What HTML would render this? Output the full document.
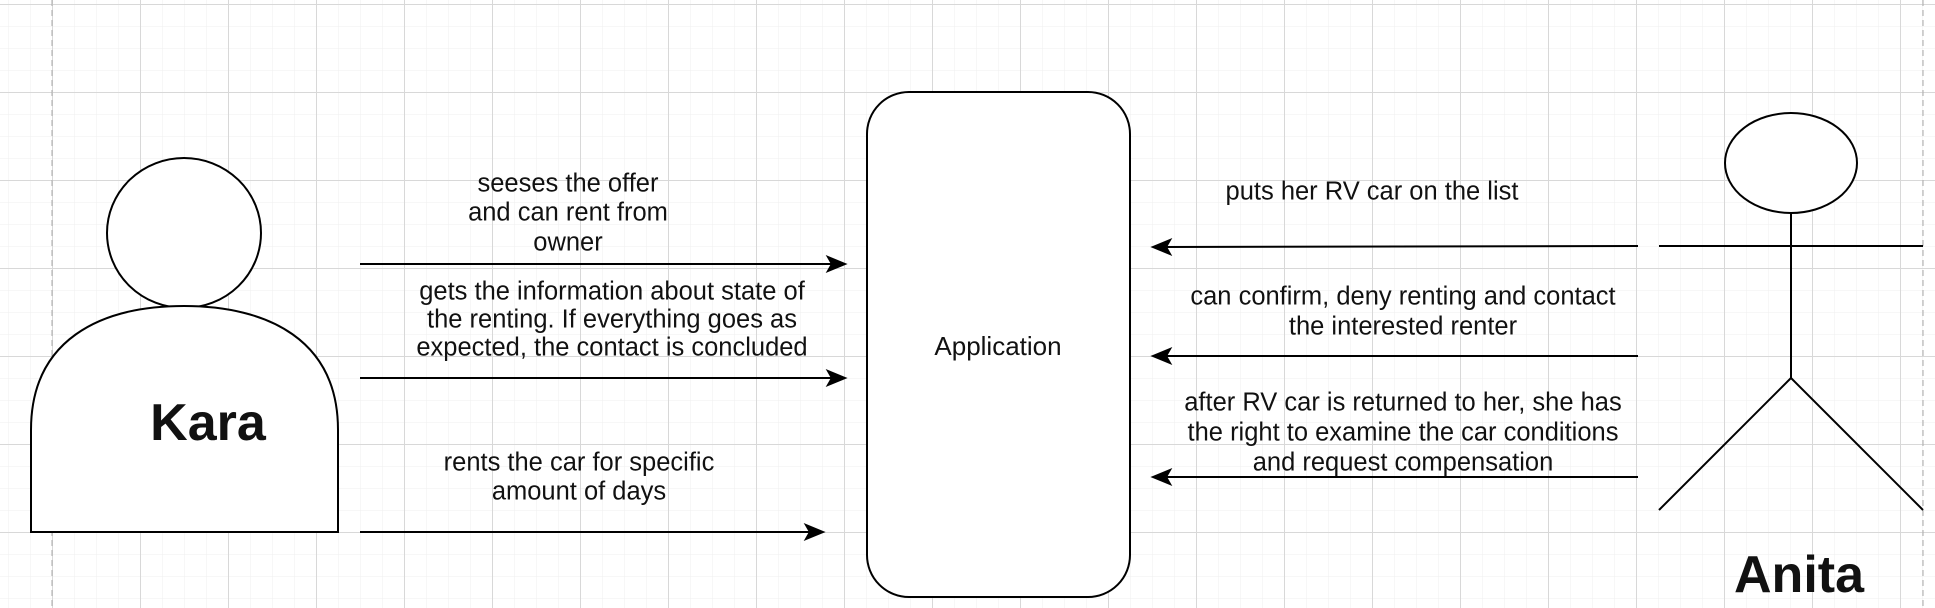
<!DOCTYPE html>
<html><head><meta charset="utf-8"><style>
html,body{margin:0;padding:0;background:#fff;}
svg{display:block;}
text{font-family:"Liberation Sans",sans-serif;fill:#111;}
</style></head><body>
<svg width="1935" height="608" viewBox="0 0 1935 608" xmlns="http://www.w3.org/2000/svg">
<defs>
<pattern id="minor" x="8" y="4" width="22" height="22" patternUnits="userSpaceOnUse">
<path d="M0 0H22M0 0V22" stroke="#efefef" stroke-width="1" fill="none"/>
</pattern>
<pattern id="major" x="52" y="4" width="88" height="88" patternUnits="userSpaceOnUse">
<path d="M0 0.5H88M0.5 0V88" stroke="#d8d8d8" stroke-width="1" fill="none"/>
</pattern>
</defs>
<rect width="1935" height="608" fill="url(#minor)"/>
<rect width="1935" height="608" fill="url(#major)"/>
<line x1="52" y1="0" x2="52" y2="608" stroke="#aaa" stroke-dasharray="6,4"/>
<line x1="1923" y1="0" x2="1923" y2="608" stroke="#aaa" stroke-dasharray="6,4"/>

<!-- Kara -->
<ellipse cx="184" cy="233" rx="77" ry="75" fill="#fff" stroke="#000" stroke-width="2"/>
<path d="M31 532 L31 430 C31 340 100 306 184 306 C268 306 338 340 338 430 L338 532 Z" fill="#fff" stroke="#000" stroke-width="2"/>
<text x="208" y="440" font-size="52" font-weight="bold" text-anchor="middle">Kara</text>

<!-- Application -->
<rect x="867" y="92" width="263" height="505" rx="42" fill="#fff" stroke="#000" stroke-width="2"/>
<text x="998" y="355" font-size="26" text-anchor="middle">Application</text>

<g stroke="#000" stroke-width="2" fill="#000">
<line x1="360" y1="264" x2="836" y2="264"/><path d="M845 264 L828 257 L832 264 L828 271 Z"/>
<line x1="360" y1="378" x2="836" y2="378"/><path d="M845 378 L828 371 L832 378 L828 385 Z"/>
<line x1="360" y1="532" x2="814" y2="532"/><path d="M823 532 L806 525 L810 532 L806 539 Z"/>
<line x1="1638" y1="246" x2="1162" y2="247"/><path d="M1153 247 L1170 240 L1166 247 L1170 254 Z"/>
<line x1="1638" y1="356" x2="1162" y2="356"/><path d="M1153 356 L1170 349 L1166 356 L1170 363 Z"/>
<line x1="1638" y1="477" x2="1162" y2="477"/><path d="M1153 477 L1170 470 L1166 477 L1170 484 Z"/>
</g>

<g font-size="25.5" text-anchor="middle" dominant-baseline="middle">
<text x="568" y="185">seeses the offer</text>
<text x="568" y="214">and can rent from</text>
<text x="568" y="244">owner</text>
<text x="612" y="293">gets the information about state of</text>
<text x="612" y="321">the renting. If everything goes as</text>
<text x="612" y="349">expected, the contact is concluded</text>
<text x="579" y="464">rents the car for specific</text>
<text x="579" y="493">amount of days</text>
<text x="1372" y="193">puts her RV car on the list</text>
<text x="1403" y="298">can confirm, deny renting and contact</text>
<text x="1403" y="328">the interested renter</text>
<text x="1403" y="404">after RV car is returned to her, she has</text>
<text x="1403" y="434">the right to examine the car conditions</text>
<text x="1403" y="464">and request compensation</text>
</g>

<!-- Anita -->
<g stroke="#000" stroke-width="2" fill="none">
<ellipse cx="1791" cy="163" rx="66" ry="50" fill="#fff"/>
<line x1="1791" y1="213" x2="1791" y2="378"/>
<line x1="1659" y1="246" x2="1923" y2="246"/>
<line x1="1791" y1="378" x2="1659" y2="510"/>
<line x1="1791" y1="378" x2="1923" y2="510"/>
</g>
<text x="1799" y="592" font-size="52" font-weight="bold" text-anchor="middle">Anita</text>
</svg>
</body></html>
